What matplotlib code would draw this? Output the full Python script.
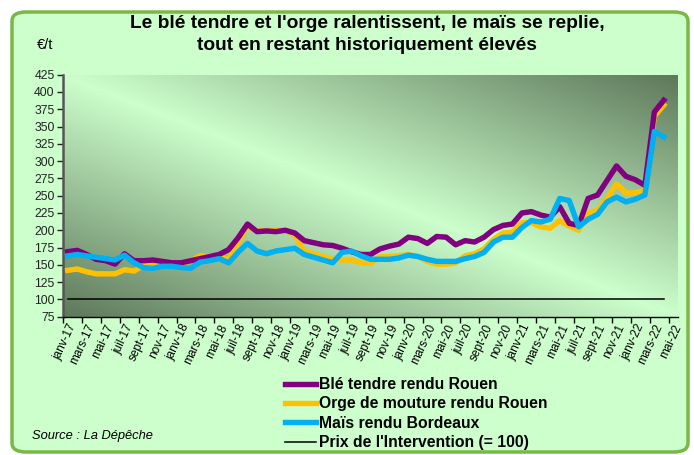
import matplotlib
matplotlib.use("Agg")
import matplotlib.pyplot as plt
import numpy as np
from matplotlib.patches import FancyBboxPatch

plt.rcParams['font.family'] = ['Liberation Sans', 'DejaVu Sans']

# mois janv-17 .. mai-22 (65 catégories), données jusqu'à avr-22
mois_abr = ['janv', 'févr', 'mars', 'avr', 'mai', 'juin',
            'juil', 'août', 'sept', 'oct', 'nov', 'déc']
mois = [f"{m}-{a}" for a in range(17, 23) for m in mois_abr][:65]

ble = [169, 171, 165, 158, 156, 151, 166, 156, 156, 157, 155, 153,
       153, 156, 159, 162, 165, 172, 189, 209, 198, 199, 198, 200,
       196, 185, 182, 179, 178, 174, 169, 165, 165, 173, 177, 180,
       190, 188, 181, 191, 190, 179, 185, 183, 190, 201, 207, 209,
       225, 227, 222, 219, 234, 210, 207, 246, 251, 272, 293, 278,
       273, 265, 371, 388]
orge = [142, 144, 140, 137, 137, 137, 143, 141, 149, 152, 150, 149,
        151, 156, 163, 163, 161, 158, 182, 206, 199, 200, 200, 200,
        193, 170, 166, 162, 158, 157, 157, 153, 152, 162, 162, 163,
        165, 162, 155, 151, 151, 153, 163, 166, 173, 187, 196, 197,
        211, 211, 205, 203, 214, 206, 200, 225, 229, 246, 267, 254,
        254, 258, 365, 381]
mais = [163, 165, 163, 161, 159, 157, 164, 153, 146, 145, 148, 148,
        146, 145, 154, 156, 159, 153, 168, 181, 170, 166, 170, 172,
        174, 165, 161, 157, 153, 168, 170, 163, 158, 158, 158, 160,
        164, 162, 158, 155, 155, 155, 159, 162, 168, 183, 190, 190,
        204, 214, 212, 216, 246, 243, 205, 216, 223, 241, 248, 241,
        245, 251, 343, 335]
intervention = [100] * 64

W, H = 694, 455
fig = plt.figure(figsize=(W / 100, H / 100), dpi=100)
fig.patch.set_facecolor('white')

# cadre vert arrondi
cadre = FancyBboxPatch((12 / W, 3 / H), 676 / W, 440 / H,
                       boxstyle="round,pad=0,rounding_size=0.02",
                       transform=fig.transFigure, facecolor='#CCFFCC',
                       edgecolor='#7AB648', linewidth=2.5, zorder=-5)
fig.patches.append(cadre)

ax = fig.add_axes([63 / W, 138.3 / H, 615 / W, 242 / H])
ax.set_facecolor('none')

# fond dégradé
gx, gy = np.meshgrid(np.linspace(0, 1, 300), np.linspace(0, 1, 150))
t = np.abs(gx + gy - 1)
clair = np.array([204, 255, 204]) / 255
fonce = np.array([94, 120, 90]) / 255
img = clair[None, None, :] * (1 - t[..., None]) + fonce[None, None, :] * t[..., None]
ax.imshow(img, extent=[-0.5, 64.5, 75, 425], origin='lower', aspect='auto', zorder=0)

x = np.arange(len(ble))
ax.plot(x, intervention, color='black', lw=1.1, zorder=2, label="Prix de l'Intervention (= 100)")
ax.plot(x, orge, color='#FFC000', lw=3.9, zorder=3, label='Orge de mouture rendu Rouen')
ax.plot(x, ble, color='#800080', lw=3.9, zorder=4, label='Blé tendre rendu Rouen')
ax.plot(x, mais, color='#00B0F0', lw=3.9, zorder=5, label='Maïs rendu Bordeaux')

ax.set_xlim(-0.5, 64.5)
ax.set_ylim(75, 425)
ax.set_yticks(np.arange(75, 426, 25))
ax.tick_params(axis='y', labelsize=8.8, length=4, width=1, pad=2, colors='#222222')
ax.set_xticks(np.arange(-0.5, 64, 2))
ax.set_xticklabels([])
ax.set_xticks(np.arange(0, 65, 2), minor=True)
ax.set_xticklabels(mois[::2], minor=True, rotation=65, ha='right',
                   rotation_mode='anchor', fontsize=8.5)
ax.tick_params(axis='x', which='major', length=4, width=1)
ax.tick_params(axis='x', which='minor', length=0, pad=4)
for s in ['top', 'right']:
    ax.spines[s].set_visible(False)
ax.spines['left'].set_color('#555555')
ax.spines['left'].set_linewidth(1.8)
ax.spines['bottom'].set_linewidth(1.0)

fig.text(367 / W, 1 - 24 / H, "Le blé tendre et l'orge ralentissent, le maïs se replie,",
         ha='center', va='center', fontsize=13.8, fontweight='bold')
fig.text(367 / W, 1 - 45 / H, "tout en restant historiquement élevés",
         ha='center', va='center', fontsize=13.8, fontweight='bold')
fig.text(37 / W, 1 - 45 / H, "€/t", ha='left', va='center', fontsize=10.5)
fig.text(32 / W, 1 - 436 / H, "Source : La Dépêche", ha='left', va='center',
         fontsize=9.3, style='italic')

h, l = ax.get_legend_handles_labels()
ordre = [2, 1, 3, 0]
leg = fig.legend([h[i] for i in ordre], [l[i] for i in ordre],
                 loc='upper left', bbox_to_anchor=(285 / W, 1 - 377 / H),
                 frameon=False, borderpad=0, borderaxespad=0,
                 handlelength=2.0, handletextpad=0.15, labelspacing=0.28,
                 prop={'weight': 'bold', 'size': 11.3})

fig.savefig('out.png', dpi=100)
